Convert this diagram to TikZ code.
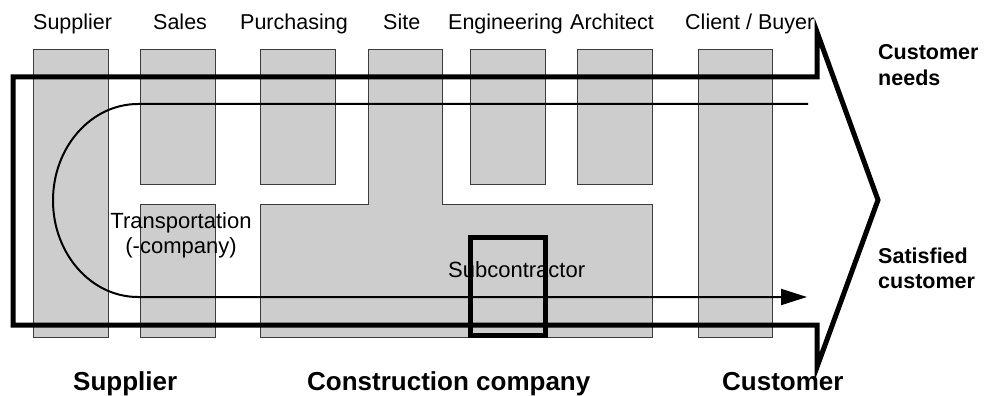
\documentclass[tikz,border=0pt]{standalone}
\usepackage{fontspec}
\setmainfont{Liberation Sans}
\usetikzlibrary{arrows.meta}
\definecolor{boxgray}{RGB}{205,205,205}
\definecolor{edgegray}{RGB}{60,60,60}
\begin{document}
\begin{tikzpicture}[x=1pt,y=-1pt,
  col/.style={fill=boxgray,draw=edgegray,line width=1pt,inner sep=0pt,outer sep=0pt},
  frame/.style={line width=5pt,line join=miter,miter limit=20},
  flow/.style={line width=2pt},
  subbox/.style={draw=black,line width=5pt,inner sep=0pt},
  toplabel/.style={font=\fontsize{21.5}{24}\selectfont,anchor=base west,inner sep=0pt},
  botlabel/.style={font=\bfseries\fontsize{26}{28}\selectfont,anchor=base west,inner sep=0pt},
  sidelabel/.style={font=\bfseries\fontsize{21.5}{25}\selectfont,anchor=base west,inner sep=0pt,align=left},
  innerlabel/.style={font=\fontsize{22}{25}\selectfont,inner sep=0pt}
]
\useasboundingbox (0,0) rectangle (986,396);
\fill[white] (0,0) rectangle (986,396);

% columns
\node[col,minimum width=75pt,minimum height=287pt] (supcol) at (70.5,193.5) {};
\node[col,minimum width=75pt,minimum height=134pt] (salestop) at (177.5,117) {};
\node[col,minimum width=75pt,minimum height=133pt] (salesbot) at (177.5,270.5) {};
\node[col,minimum width=75pt,minimum height=134pt] (purchtop) at (297.5,117) {};
\node[col,minimum width=75pt,minimum height=134pt] (engtop) at (507.5,117) {};
\node[col,minimum width=75pt,minimum height=134pt] (archtop) at (614.5,117) {};
\node[col,minimum width=74pt,minimum height=287pt] (clientcol) at (735,193.5) {};
% construction company block
\coordinate (cc1) at (260,204);
\coordinate (cc2) at (368,204);
\coordinate (cc3) at (368,50);
\coordinate (cc4) at (442,50);
\coordinate (cc5) at (442,204);
\coordinate (cc6) at (652,204);
\coordinate (cc7) at (652,337);
\coordinate (cc8) at (260,337);
\draw[fill=boxgray,draw=edgegray,line width=1pt]
  (cc1) -- (cc2) -- (cc3) -- (cc4) -- (cc5) -- (cc6) -- (cc7) -- (cc8) -- cycle;

% big frame arrow
\coordinate (fa) at (817,77);
\coordinate (fb) at (13,77);
\coordinate (fc) at (13,325);
\coordinate (fd) at (817,325);
\coordinate (fe) at (817,367);
\coordinate (ff) at (878,200);
\coordinate (fg) at (817,32);
\draw[frame] (fa) -- (fb) -- (fc) -- (fd) -- (fe) -- (ff) -- (fg) -- cycle;

% flow line
\coordinate (ftop) at (808,104);
\coordinate (fturn) at (138,104);
\coordinate (fend) at (807,297);
\draw[flow,-{Triangle[length=26pt,width=16pt]}]
  (ftop) -- (fturn) arc[start angle=90,end angle=270,x radius=85pt,y radius=96.5pt] -- (fend);

% inner labels
\node[innerlabel,align=center,anchor=base] (transp) at (181,253) {Transportation\\(-company)};
\node[innerlabel,anchor=base west] (subc) at (448,277) {Subcontractor};
\node[subbox,minimum width=75pt,minimum height=98pt] (subbox) at (507.5,286) {};

% top labels
\node[toplabel] (lsup) at (33,30) {Supplier};
\node[toplabel] (lsales) at (153,30) {Sales};
\node[toplabel] (lpurch) at (240,30) {Purchasing};
\node[toplabel] (lsite) at (383,30) {Site};
\node[toplabel] (leng) at (448,30) {Engineering};
\node[toplabel] (larch) at (570,30) {Architect};
\node[toplabel] (lclient) at (685,30) {Client / Buyer};

% side labels
\node[sidelabel] (needs) at (878,85) {Customer\\needs};
\node[sidelabel] (sat) at (878,288) {Satisfied\\customer};

% bottom labels
\node[botlabel] (bsup) at (73,390) {Supplier};
\node[botlabel] (bcc) at (307,390) {Construction company};
\node[botlabel] (bcust) at (722,390) {Customer};
\end{tikzpicture}
\end{document}
